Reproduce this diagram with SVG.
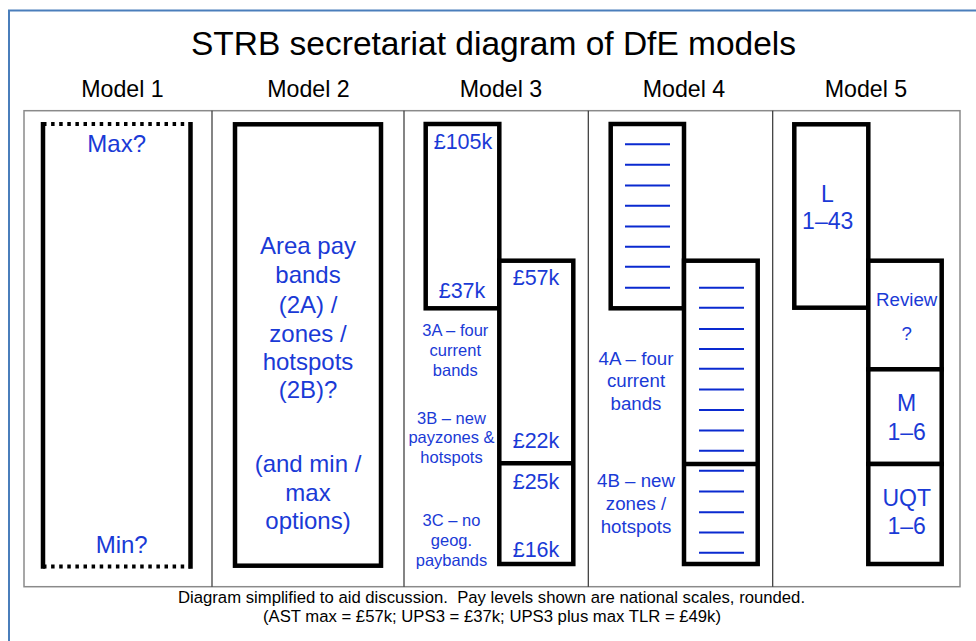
<svg xmlns="http://www.w3.org/2000/svg" width="976" height="641" viewBox="0 0 976 641">
<style>
text{font-family:"Liberation Sans",Arial,Helvetica,sans-serif;text-anchor:middle}
.hd{fill:#000;font-size:23.2px}
.ti{fill:#000;font-size:33.5px}
.ft{fill:#000;font-size:16.7px}
.bl{fill:#1a3ad6}
.b24{font-size:24px}
.b23{font-size:23px}
.b21{font-size:21.5px}
.b19{font-size:18.7px}
.b16{font-size:16.5px}
.box{fill:#fff;stroke:#000;stroke-width:4.5}
.edge{stroke:#000;stroke-width:4.5;fill:none}
.dot{stroke:#000;stroke-width:4;fill:none;stroke-dasharray:3.5 4.6}
.tick{stroke:#0a2ad0;stroke-width:2}
.grid{stroke:#333;stroke-width:1.2}
</style>
<rect width="976" height="641" fill="#fff"/>
<path d="M9,641 V10.5 H976" fill="none" stroke="#4a7ebb" stroke-width="2"/>
<text class="ti" x="493.5" y="55">STRB secretariat diagram of DfE models</text>
<g id="headers">
<text class="hd" x="122.5" y="97">Model 1</text>
<text class="hd" x="308.5" y="97">Model 2</text>
<text class="hd" x="501" y="97">Model 3</text>
<text class="hd" x="684" y="97">Model 4</text>
<text class="hd" x="866" y="97">Model 5</text>
</g>
<g id="table">
<rect x="24" y="110.7" width="936" height="476" fill="none" stroke="#8a8a8a" stroke-width="1.5"/>
<line class="grid" x1="212" y1="110.7" x2="212" y2="586.7"/>
<line class="grid" x1="404" y1="110.7" x2="404" y2="586.7"/>
<line class="grid" x1="588.3" y1="110.7" x2="588.3" y2="586.7"/>
<line class="grid" x1="772.7" y1="110.7" x2="772.7" y2="586.7"/>
</g>
<g id="model1">
<line class="edge" x1="43" y1="122" x2="43" y2="568.7"/>
<line class="edge" x1="190.5" y1="122" x2="190.5" y2="568.7"/>
<line class="dot" x1="43" y1="124" x2="190.5" y2="124"/>
<line class="dot" x1="43" y1="566.5" x2="190.5" y2="566.5"/>
<text class="bl b24" x="116.7" y="152">Max?</text>
<text class="bl b24" x="121.7" y="553">Min?</text>
</g>
<g id="model2">
<rect class="box" x="235" y="124.3" width="146" height="441.4"/>
<text class="bl b24" x="308" y="254">Area pay</text>
<text class="bl b24" x="308" y="283">bands</text>
<text class="bl b24" x="308" y="313">(2A) /</text>
<text class="bl b24" x="308" y="342">zones /</text>
<text class="bl b24" x="308" y="370">hotspots</text>
<text class="bl b24" x="308" y="398">(2B)?</text>
<text class="bl b24" x="308" y="472">(and min /</text>
<text class="bl b24" x="308" y="500.7">max</text>
<text class="bl b24" x="308" y="529">options)</text>
</g>
<g id="model3-upper">
<rect class="box" x="425.7" y="124" width="73.6" height="184.3"/>
<text class="bl b21" x="463" y="149.3">£105k</text>
<text class="bl b21" x="462" y="297.7">£37k</text>
</g>
<g id="model3-lower">
<rect class="box" x="499.3" y="260.7" width="74" height="303.3"/>
<line class="edge" x1="499.3" y1="463.3" x2="573.3" y2="463.3"/>
<text class="bl b21" x="536" y="285">£57k</text>
<text class="bl b21" x="536" y="448.3">£22k</text>
<text class="bl b21" x="536" y="489.3">£25k</text>
<text class="bl b21" x="536" y="556.7">£16k</text>
</g>
<g id="model3-labels">
<text class="bl b16" x="455.3" y="335.7">3A – four</text>
<text class="bl b16" x="455.3" y="356">current</text>
<text class="bl b16" x="455.3" y="376">bands</text>
<text class="bl b16" x="451.5" y="424.3">3B – new</text>
<text class="bl b16" x="451.5" y="443.3">payzones &amp;</text>
<text class="bl b16" x="451.5" y="463.3">hotspots</text>
<text class="bl b16" x="451.5" y="526">3C – no</text>
<text class="bl b16" x="451.5" y="546">geog.</text>
<text class="bl b16" x="451.5" y="566">paybands</text>
</g>
<g id="model4-upper">
<rect class="box" x="610.7" y="124" width="73.3" height="184.3"/>
<g class="tick">
<line x1="625" y1="144.3" x2="670" y2="144.3"/>
<line x1="625" y1="164.8" x2="670" y2="164.8"/>
<line x1="625" y1="185.5" x2="670" y2="185.5"/>
<line x1="625" y1="205.8" x2="670" y2="205.8"/>
<line x1="625" y1="226.5" x2="670" y2="226.5"/>
<line x1="625" y1="246.7" x2="670" y2="246.7"/>
<line x1="625" y1="266.8" x2="670" y2="266.8"/>
<line x1="625" y1="287.7" x2="670" y2="287.7"/>
</g>
</g>
<g id="model4-lower">
<rect class="box" x="684" y="260.7" width="73.7" height="303.3"/>
<line class="edge" x1="684" y1="464" x2="757.7" y2="464"/>
<g class="tick">
<line x1="699" y1="287.7" x2="744" y2="287.7"/>
<line x1="699" y1="307.8" x2="744" y2="307.8"/>
<line x1="699" y1="329" x2="744" y2="329"/>
<line x1="699" y1="349" x2="744" y2="349"/>
<line x1="699" y1="368.8" x2="744" y2="368.8"/>
<line x1="699" y1="389.5" x2="744" y2="389.5"/>
<line x1="699" y1="410" x2="744" y2="410"/>
<line x1="699" y1="430.6" x2="744" y2="430.6"/>
<line x1="699" y1="450.8" x2="744" y2="450.8"/>
<line x1="699" y1="470.8" x2="744" y2="470.8"/>
<line x1="699" y1="491.6" x2="744" y2="491.6"/>
<line x1="699" y1="512.3" x2="744" y2="512.3"/>
<line x1="699" y1="532.6" x2="744" y2="532.6"/>
<line x1="699" y1="552.7" x2="744" y2="552.7"/>
</g>
</g>
<g id="model4-labels">
<text class="bl b19" x="636" y="365">4A – four</text>
<text class="bl b19" x="636" y="387.3">current</text>
<text class="bl b19" x="636" y="410">bands</text>
<text class="bl b19" x="636" y="487.3">4B – new</text>
<text class="bl b19" x="636" y="510">zones /</text>
<text class="bl b19" x="636" y="532.7">hotspots</text>
</g>
<g id="model5-L">
<rect class="box" x="794.3" y="124.3" width="74" height="183.4"/>
<text class="bl b23" x="827.3" y="201.7">L</text>
<text class="bl b23" x="827.7" y="229.3">1–43</text>
</g>
<g id="model5-review">
<rect class="box" x="868.3" y="260.7" width="73.4" height="108.6"/>
<text class="bl b19" x="906.7" y="305.7">Review</text>
<text class="bl b19" x="906.7" y="340">?</text>
</g>
<g id="model5-M">
<rect class="box" x="868.3" y="369.3" width="73.4" height="94.7"/>
<text class="bl b23" x="906.7" y="410.7">M</text>
<text class="bl b23" x="906.7" y="440">1–6</text>
</g>
<g id="model5-UQT">
<rect class="box" x="868.3" y="464" width="73.4" height="100"/>
<text class="bl b23" x="906.7" y="505.7">UQT</text>
<text class="bl b23" x="906.7" y="534.3">1–6</text>
</g>
<g id="connectors"/>
<g id="footer">
<text class="ft" x="491.5" y="603.3" xml:space="preserve">Diagram simplified to aid discussion.  Pay levels shown are national scales, rounded.</text>
<text class="ft" x="492" y="622.2">(AST max = £57k; UPS3 = £37k; UPS3 plus max TLR = £49k)</text>
</g>
</svg>
